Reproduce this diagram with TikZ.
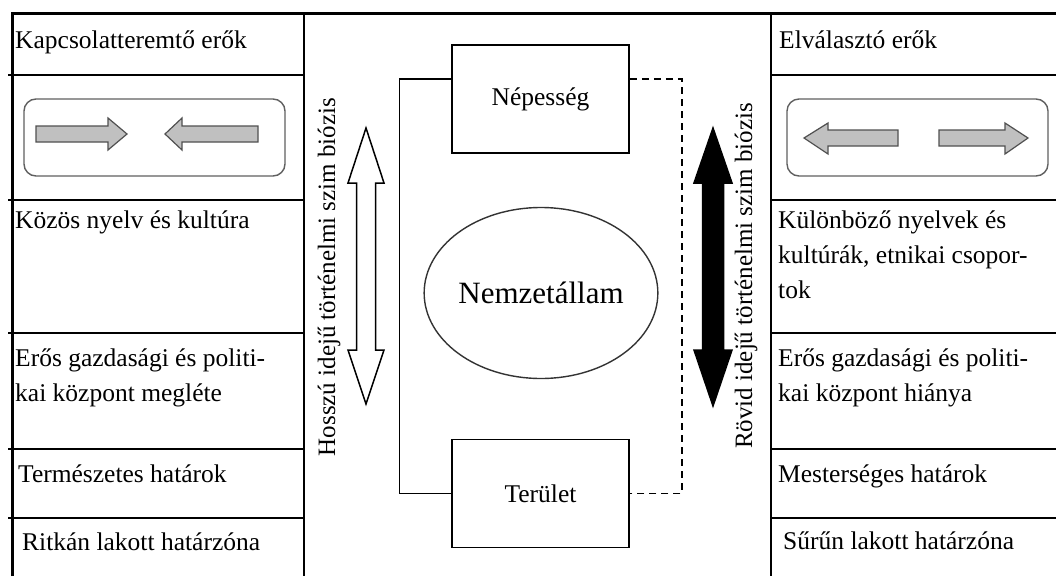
\documentclass[tikz,border=0pt]{standalone}
\usepackage{fontspec}
\setmainfont{Liberation Serif}
\usetikzlibrary{shapes.geometric}
\definecolor{arrowfill}{HTML}{C0C0C0}
\definecolor{arrowline}{HTML}{505050}
\definecolor{boxline}{HTML}{606060}
\begin{document}
\begin{tikzpicture}[x=1pt,y=-1pt,
  outer/.style={line width=3pt},
  grid/.style={line width=1.7pt},
  cell/.style={anchor=base west, inner sep=0pt, font=\fontsize{25.5}{35}\selectfont},
  vtext/.style={rotate=90, inner sep=0pt, font=\fontsize{25}{30}\selectfont},
  centerbox/.style={draw, line width=1.5pt, minimum width=177pt, minimum height=108pt, inner sep=0pt, font=\fontsize{25.5}{30}\selectfont},
  conn/.style={line width=1.5pt},
  forcebox/.style={draw=boxline, line width=1.4pt, rounded corners=12pt},
  grayarrow/.style={draw=arrowline, fill=arrowfill, line width=1.2pt, line join=miter},
  bigarrow/.style={draw=black, line width=1.5pt, line join=miter}
]
\useasboundingbox (0,0) rectangle (1056,576);
\fill[white] (0,0) rectangle (1056,576);

% table frame
\draw[outer] (12,576) -- (12,13) -- (1056,13);
\draw[grid] (304,13) -- (304,576);
\draw[grid] (771,13) -- (771,576);
\foreach \yy in {75,200,333,449,518}{
  \draw[grid] (8,\yy) -- (304,\yy);
  \draw[grid] (771,\yy) -- (1056,\yy);
}

% left column texts
\node[cell] (l1) at (15,48) {Kapcsolatteremtő erők};
\node[cell] (l3) at (15,228) {Közös nyelv és kultúra};
\node[cell] (l4a) at (15,366) {Erős gazdasági és politi-};
\node[cell] (l4b) at (15,401) {kai központ megléte};
\node[cell] (l5) at (18,482) {Természetes határok};
\node[cell] (l6) at (22,550) {Ritkán lakott határzóna};

% right column texts
\node[cell] (r1) at (779,48) {Elválasztó erők};
\node[cell] (r3a) at (778,228) {Különböző nyelvek és};
\node[cell] (r3b) at (778,263) {kultúrák, etnikai csopor-};
\node[cell] (r3c) at (778,298) {tok};
\node[cell] (r4a) at (778,366) {Erős gazdasági és politi-};
\node[cell] (r4b) at (778,401) {kai központ hiánya};
\node[cell] (r5) at (778,482) {Mesterséges határok};
\node[cell] (r6) at (783,549) {Sűrűn lakott határzóna};

% left force box (attracting)
\draw[forcebox] (24,99) rectangle (285,176);
\draw[grayarrow] (36,126) -- (108,126) -- (108,118) -- (127,134) -- (108,150) -- (108,142) -- (36,142) -- cycle;
\draw[grayarrow] (258,126) -- (182,126) -- (182,118) -- (165,134) -- (182,150) -- (182,142) -- (258,142) -- cycle;

% right force box (separating)
\draw[forcebox] (787,99) rectangle (1048,176);
\draw[grayarrow] (898,130) -- (828,130) -- (828,123) -- (804,138) -- (828,154) -- (828,146) -- (898,146) -- cycle;
\draw[grayarrow] (939,130) -- (1005,130) -- (1005,123) -- (1028,138) -- (1005,154) -- (1005,146) -- (939,146) -- cycle;

% vertical double arrows
\draw[bigarrow, fill=white] (366,128) -- (384,183) -- (375.5,183) -- (375.5,350) -- (384,350) -- (366,404)
  -- (348,350) -- (356.5,350) -- (356.5,183) -- (348,183) -- cycle;
\draw[bigarrow, fill=black] (713,128) -- (732,183) -- (723.5,183) -- (723.5,350) -- (732,350) -- (713,406)
  -- (694,350) -- (702.5,350) -- (702.5,183) -- (694,183) -- cycle;

% vertical labels
\node[vtext] (longsym) at (329,277) {Hosszú idejű történelmi szim biózis};
\node[vtext] (shortsym) at (746,276) {Rövid idejű történelmi szim biózis};

% centre
\node[centerbox] (nep) at (540.5,99) {Népesség};
\node[centerbox] (ter) at (540.5,493.5) {Terület};
\node[draw=black!80, line width=1.4pt, ellipse, minimum width=219pt, minimum height=171pt, inner sep=0pt,
  font=\fontsize{31}{36}\selectfont] (nation) at (541,293) {Nemzetállam};

\draw[conn] ([yshift=20pt]nep.west) -- ++(-52,0) |- (ter.west);
\draw[conn, dashed, dash pattern=on 7pt off 5pt] ([yshift=20pt]nep.east) -- ++(52,0) |- (ter.east);
\end{tikzpicture}
\end{document}
